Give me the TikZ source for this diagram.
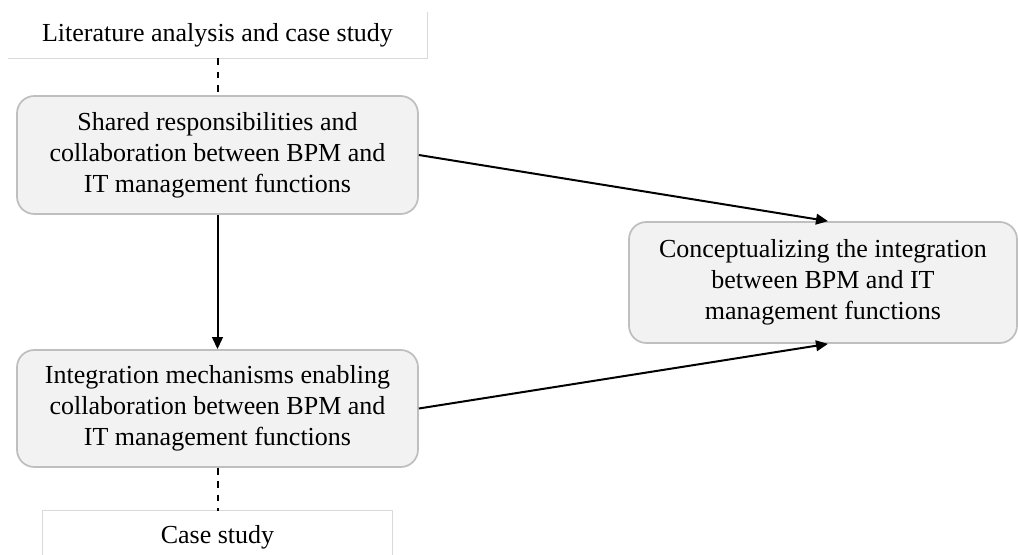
\documentclass[tikz,border=0pt]{standalone}
\usepackage{fontspec}
\setmainfont{Liberation Serif}
\usetikzlibrary{arrows.meta}
\definecolor{boxfill}{HTML}{F2F2F2}
\definecolor{boxline}{HTML}{BFBFBF}
\definecolor{srcline}{HTML}{D9D9D9}
\begin{document}
\begin{tikzpicture}[x=0.75pt,y=-0.75pt,
	stage/.style={draw=boxline,line width=1.3pt,fill=boxfill,rounded corners=13pt,align=center,minimum width=300.75pt,font=\fontsize{19.5}{23.3}\selectfont},
	source/.style={inner sep=0pt,align=center,font=\fontsize{19.5}{23.3}\selectfont},
	flow/.style={line width=1.5pt,-{Triangle[length=9pt,width=8pt]}},
	link/.style={line width=1.5pt,dash pattern=on 5pt off 5pt}]
	\useasboundingbox (0,0) rectangle (1018,554);
	\node[source,minimum width=314.25pt,minimum height=34.5pt] (lit) at (217.5,35) {Literature analysis and case study};
	\node[source,minimum width=261.75pt,minimum height=39pt] (case) at (217.5,537) {Case study};
	\draw[srcline,line width=0.8pt] (lit.south west) -- (lit.south east) -- (lit.north east);
	\draw[srcline,line width=0.8pt] (case.south west) -- (case.north west) -- (case.north east) -- (case.south east);
	\node[stage,minimum height=88.5pt] (shared) at (217.5,155) {Shared responsibilities and\\collaboration between BPM and\\IT management functions};
	\node[stage,minimum height=87.75pt] (integ) at (217.5,408.5) {Integration mechanisms enabling\\collaboration between BPM and\\IT management functions};
	\node[stage,minimum width=291pt,minimum height=90.75pt] (concept) at (823,282.5) {Conceptualizing the integration\\between BPM and IT\\management functions};
	\draw[link] (lit.south) -- (shared.north);
	\draw[link] (integ.south) -- (case.north);
	\draw[flow] (shared.south) -- (integ.north);
	\draw[flow] (shared.east) -- ([xshift=3.75pt]concept.north);
	\draw[flow] (integ.east) -- ([xshift=3.75pt]concept.south);
\end{tikzpicture}
\end{document}
